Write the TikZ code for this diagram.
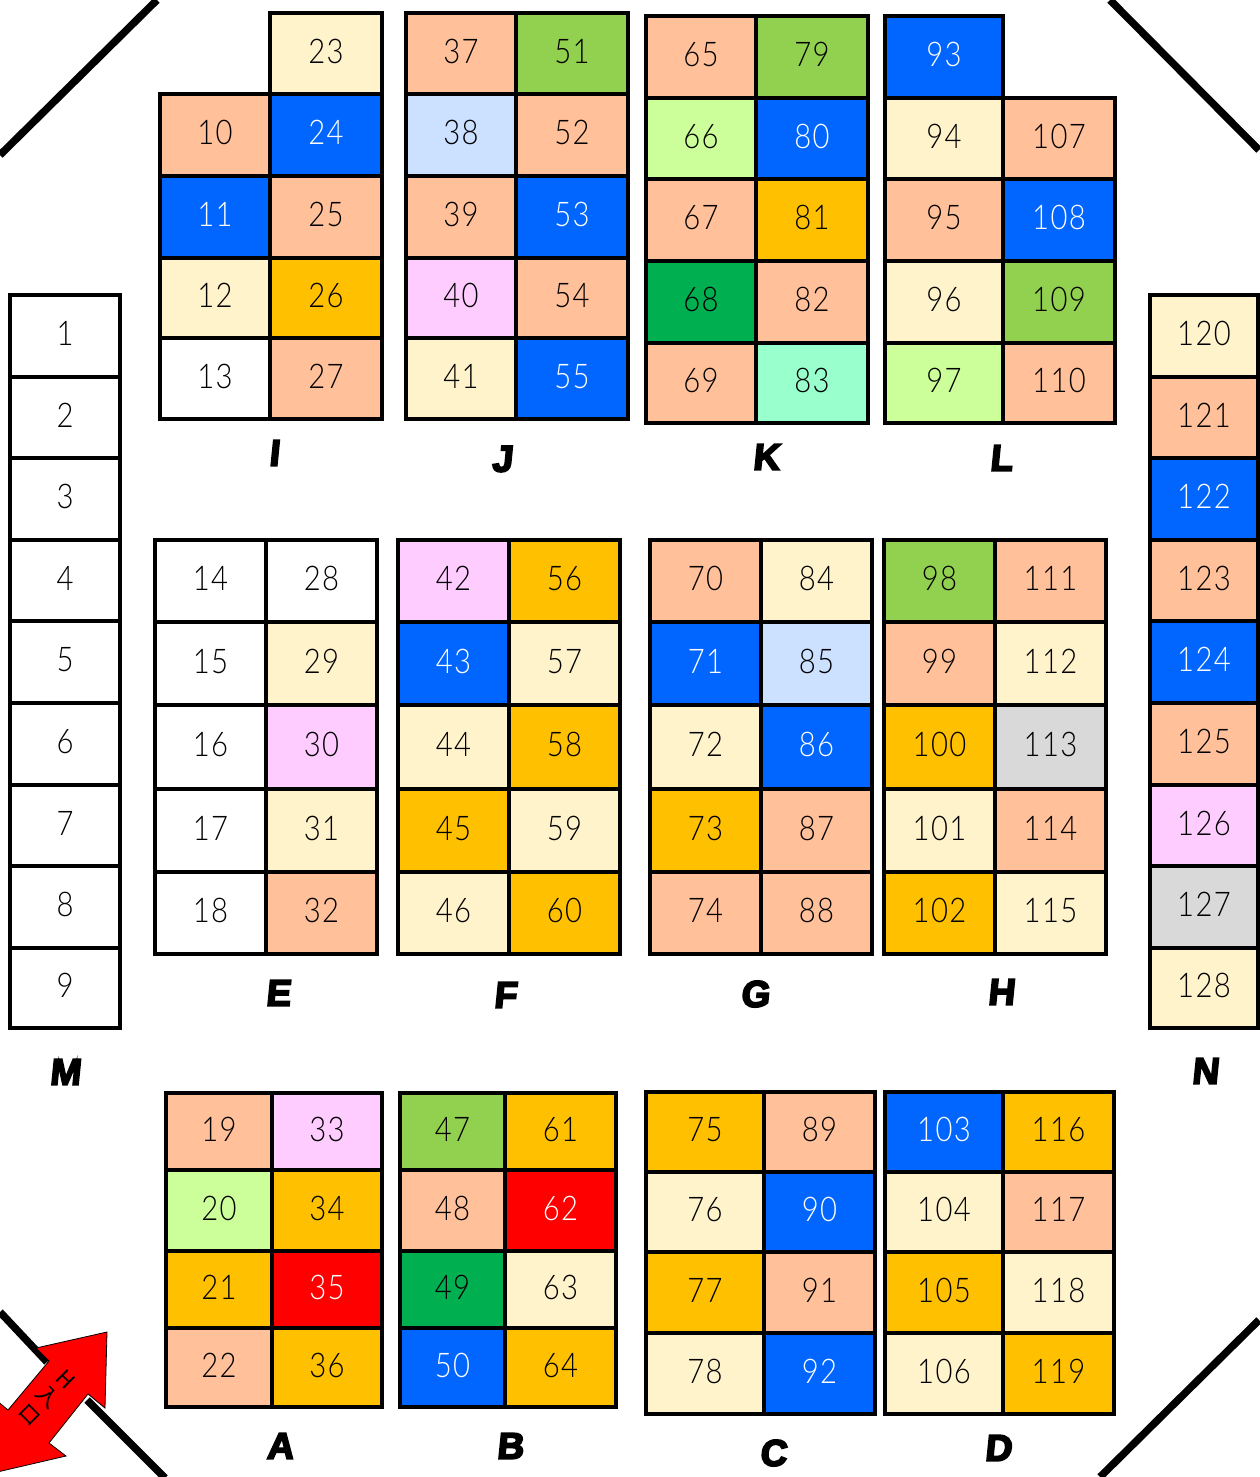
\documentclass[tikz,border=0pt]{standalone}
\usepackage{fontspec}
\usepackage{tikz}
\setsansfont{Liberation Sans}
\newfontfamily\numfont[UprightFont={* Light},FakeStretch=0.86,Numbers=Monospaced,LetterSpace=4]{Lato}
\newfontfamily\lblfont[FakeBold=5,FakeSlant=0.1]{Liberation Sans Bold}
\newfontfamily\cjk{Noto Sans CJK JP}

\begin{document}
\begin{tikzpicture}[
  x=1pt, y=-1pt,
  cell/.style={rectangle, draw=black, line width=3.3pt, inner sep=0pt, outer sep=0pt, text depth=5pt,
               anchor=north west, font=\numfont\fontsize{34}{34}\selectfont, text=black},
  peach/.style={fill=peachc}, cream/.style={fill=creamc}, amber/.style={fill=amberc},
  plain/.style={fill=white}, lblue/.style={fill=lbluec}, pink/.style={fill=pinkc},
  lime/.style={fill=limec}, lgreen/.style={fill=lgreenc}, mint/.style={fill=mintc},
  gray/.style={fill=grayc}, green/.style={fill=greenc},
  blue/.style={fill=bluec, text=white}, red/.style={fill=redc, text=white},
  wall/.style={line width=7.5pt, draw=black},
  lbl/.style={font=\lblfont\fontsize{37}{37}\selectfont, inner sep=0pt},
  door/.style={font=\cjk\fontsize{22}{25}\selectfont, inner sep=0pt, rotate=-45, align=center},
]
\definecolor{peachc}{HTML}{FFC09A}
\definecolor{creamc}{HTML}{FFF3CC}
\definecolor{amberc}{HTML}{FFC000}
\definecolor{lbluec}{HTML}{CCE0FF}
\definecolor{pinkc}{HTML}{FFCCFF}
\definecolor{limec}{HTML}{92D050}
\definecolor{lgreenc}{HTML}{CCFF99}
\definecolor{mintc}{HTML}{99FFCC}
\definecolor{grayc}{HTML}{D9D9D9}
\definecolor{greenc}{HTML}{00B050}
\definecolor{bluec}{HTML}{0066FF}
\definecolor{redc}{HTML}{FF0000}
\useasboundingbox (0,0) rectangle (1259,1477);

% walls
\coordinate (tla) at (157,0);
\coordinate (tlb) at (0,155);
\coordinate (tra) at (1110,0);
\coordinate (trb) at (1259,150);
\coordinate (bra) at (1259,1320);
\coordinate (brb) at (1100,1477);
\coordinate (bla) at (0,1312);
\coordinate (blb) at (47,1362);
\coordinate (blc) at (87,1400);
\coordinate (bld) at (165,1478);
\draw[wall] (tla) -- (tlb);
\draw[wall] (tra) -- (trb);
\draw[wall] (bra) -- (brb);
\draw[wall] (bla) -- (blb);
\draw[wall] (blc) -- (bld);

% door arrow
\draw[fill=red, draw=black, line width=0.8pt] (107,1332) -- (36,1348) -- (49,1361) -- (8,1410)
  -- (-11,1394) -- (-20,1476) -- (66,1456) -- (49,1443) -- (88,1394) -- (105,1408) -- cycle;
\node[door] (door) at (48,1397) {H\\入\\ロ};

% seat blocks: x left/x right/{number/y top/y bottom/look}
\foreach \xa/\xb/\cells in {
  10/120/{1/295/377/plain,2/377/458/plain,3/458/540/plain,4/540/621/plain,5/621/703/plain,6/703/785/plain,7/785/866/plain,8/866/948/plain,9/948/1028/plain},
  1150/1258/{120/295/377/cream,121/377/458/peach,122/458/540/blue,123/540/621/peach,124/621/703/blue,125/703/785/peach,126/785/866/pink,127/866/948/gray,128/948/1028/cream},
  160/270/{10/94/176/peach,11/176/258/blue,12/258/338/cream,13/338/419/plain},
  270/382/{23/13/94/cream,24/94/176/blue,25/176/258/peach,26/258/338/amber,27/338/419/peach},
  406/516/{37/13/94/peach,38/94/176/lblue,39/176/258/peach,40/258/338/pink,41/338/419/cream},
  516/628/{51/13/94/lime,52/94/176/peach,53/176/258/blue,54/258/338/peach,55/338/419/blue},
  646/756/{65/16/98/peach,66/98/179/lgreen,67/179/261/peach,68/261/343/green,69/343/423/peach},
  756/868/{79/16/98/lime,80/98/179/blue,81/179/261/amber,82/261/343/peach,83/343/423/mint},
  885/1003/{93/16/98/blue,94/98/179/cream,95/179/261/peach,96/261/343/cream,97/343/423/lgreen},
  1003/1115/{107/98/179/peach,108/179/261/blue,109/261/343/lime,110/343/423/peach},
  155/266/{14/540/622/plain,15/622/705/plain,16/705/789/plain,17/789/872/plain,18/872/954/plain},
  266/377/{28/540/622/plain,29/622/705/cream,30/705/789/pink,31/789/872/cream,32/872/954/peach},
  398/509/{42/540/622/pink,43/622/705/blue,44/705/789/cream,45/789/872/amber,46/872/954/cream},
  509/620/{56/540/622/amber,57/622/705/cream,58/705/789/amber,59/789/872/cream,60/872/954/amber},
  650/761/{70/540/622/peach,71/622/705/blue,72/705/789/cream,73/789/872/amber,74/872/954/peach},
  761/872/{84/540/622/cream,85/622/705/lblue,86/705/789/blue,87/789/872/peach,88/872/954/peach},
  884/995/{98/540/622/lime,99/622/705/peach,100/705/789/amber,101/789/872/cream,102/872/954/amber},
  995/1106/{111/540/622/peach,112/622/705/cream,113/705/789/gray,114/789/872/peach,115/872/954/cream},
  166/272/{19/1093/1170/peach,20/1170/1251/lgreen,21/1251/1328/amber,22/1328/1407/peach},
  272/382/{33/1093/1170/pink,34/1170/1251/amber,35/1251/1328/red,36/1328/1407/amber},
  400/505/{47/1093/1170/lime,48/1170/1251/peach,49/1251/1328/green,50/1328/1407/blue},
  505/616/{61/1093/1170/amber,62/1170/1251/red,63/1251/1328/cream,64/1328/1407/amber},
  646/764/{75/1092/1172/amber,76/1172/1252/cream,77/1252/1333/amber,78/1333/1414/cream},
  764/875/{89/1092/1172/peach,90/1172/1252/blue,91/1252/1333/peach,92/1333/1414/blue},
  885/1003/{103/1092/1172/blue,104/1172/1252/cream,105/1252/1333/amber,106/1333/1414/cream},
  1003/1114/{116/1092/1172/amber,117/1172/1252/peach,118/1252/1333/cream,119/1333/1414/amber}}
{
  \foreach \n/\ya/\yb/\look in \cells
    \node[cell, \look, minimum width={(\xb-\xa)*1pt}, minimum height={(\yb-\ya)*1pt}] (seat\n) at (\xa,\ya) {\n};
}

% block letters
\foreach \n/\x/\y in {I/274/453, J/502/459, K/766/457, L/1001/458, E/278/993, F/505/995, G/755/994,
  H/1001/992, M/65/1072, N/1205/1071, A/280/1446, B/510/1446, C/773/1453, D/998/1448}
  \node[lbl] (block\n) at (\x,\y) {\n};
\end{tikzpicture}
\end{document}
